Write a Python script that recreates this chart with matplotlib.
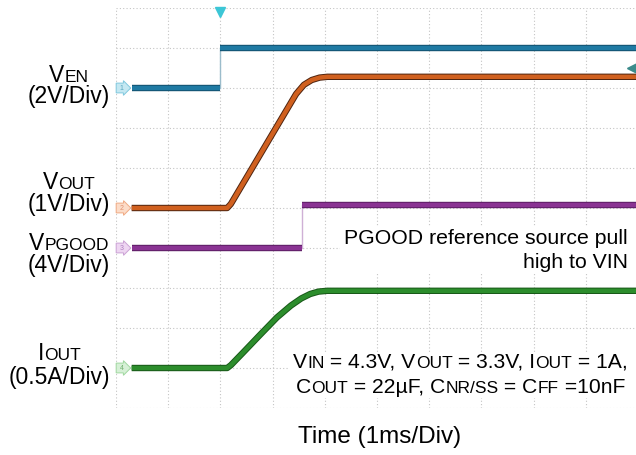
import matplotlib
matplotlib.use("Agg")
import matplotlib.pyplot as plt
import matplotlib.patheffects as pe
from matplotlib.patches import Rectangle

W, H = 636, 455

# scope screen is 10 x 10 divisions, values below are in divisions
ven_time = [0.3, 2.0, 2.0, 10.0]
ven_level = [8.0, 8.0, 9.0, 9.0]

vout_time = [0.3, 2.13, 2.2, 3.45, 3.6, 3.75, 3.9, 4.05, 10.0]
vout_level = [5.0, 5.0, 5.1, 7.85, 8.08, 8.2, 8.26, 8.28, 8.28]

pgood_time = [0.3, 3.56, 3.56, 10.0]
pgood_level = [4.0, 4.0, 5.07, 5.07]

iout_time = [0.3, 2.13, 2.2, 2.43, 2.76, 3.08, 3.35, 3.55, 3.72, 3.88, 4.05, 10.0]
iout_level = [1.0, 1.0, 1.07, 1.38, 1.83, 2.26, 2.56, 2.74, 2.85, 2.91, 2.93, 2.93]

channel_ids = ["1", "2", "3", "4"]
channel_names = [("V", "EN"), ("V", "OUT"), ("V", "PGOOD"), ("I", "OUT")]
channel_scales = ["(2V/Div)", "(1V/Div)", "(4V/Div)", "(0.5A/Div)"]

trigger_time = 2.0
trigger_level = 8.5

pgood_note = ["PGOOD reference source pull", "high to VIN"]
cond_line1 = [("V", 0), ("IN", 1), (" = 4.3V, V", 0), ("OUT", 1), (" = 3.3V, I", 0), ("OUT", 1), (" = 1A,", 0)]
cond_line2 = [("C", 0), ("OUT", 1), (" = 22µF, C", 0), ("NR/SS", 1), (" = C", 0), ("FF", 1), (" =10nF", 0)]
time_label = "Time (1ms/Div)"

plt.rcParams["font.family"] = ["Liberation Sans", "DejaVu Sans"]

fig = plt.figure(figsize=(W / 100, H / 100), dpi=100)
ax = fig.add_axes([116 / W, 47 / H, 522 / W, 400 / H])
ax.set_xlim(0, 10)
ax.set_ylim(0, 10)
ax.set_xticks(range(11))
ax.set_yticks(range(11))
ax.tick_params(length=0, labelbottom=False, labelleft=False)
ax.grid(True, ls=(0, (1, 2)), color="#c4c4c4", lw=0.8)
for s in ax.spines.values():
    s.set_visible(False)


def draw_trace(t, v, core, edge, step_color):
    # sloped/flat parts thick, instantaneous edges thin
    fx = [pe.Stroke(linewidth=4.6, foreground=edge), pe.Normal()]
    run_t, run_v = [t[0]], [v[0]]
    for i in range(1, len(t)):
        if t[i] == t[i - 1]:
            ax.plot([t[i - 1], t[i]], [v[i - 1], v[i]], color=step_color, lw=1.0, zorder=3)
            ax.plot(run_t, run_v, color=core, lw=3.2, zorder=4, solid_capstyle="butt",
                    solid_joinstyle="round", path_effects=fx)
            run_t, run_v = [t[i]], [v[i]]
        else:
            run_t.append(t[i])
            run_v.append(v[i])
    ax.plot(run_t, run_v, color=core, lw=3.2, zorder=4, solid_capstyle="butt",
            solid_joinstyle="round", path_effects=fx)


draw_trace(ven_time, ven_level, "#1f7aa3", "#114f6c", "#9bbccb")
draw_trace(vout_time, vout_level, "#d0601f", "#4e2410", "#e0a080")
draw_trace(pgood_time, pgood_level, "#8a3393", "#5a1d62", "#cfb0d6")
draw_trace(iout_time, iout_level, "#2c8d2c", "#185818", "#a0d0a0")

marker_fill = ["#c4e8f2", "#fcdcc8", "#eed6f2", "#d6f0d6"]
marker_edge = ["#80c8de", "#f0aa84", "#cba2d5", "#a0d8a0"]
marker_text = ["#5aa8c0", "#e09070", "#b080c0", "#70b070"]
start_levels = [ven_level[0], vout_level[0], pgood_level[0], iout_level[0]]
for cid, lvl, fc, ec, tc in zip(channel_ids, start_levels, marker_fill, marker_edge, marker_text):
    ax.text(0.03, lvl, " " + cid + " ", fontsize=5, color=tc, va="center", ha="left", zorder=6,
            bbox=dict(boxstyle="rarrow,pad=0.2", fc=fc, ec=ec, lw=0.7))

ax.plot(trigger_time, 9.9, marker="v", ms=7, color="#3cc6d6", clip_on=False, zorder=6)
ax.plot(9.88, trigger_level, marker="<", ms=7, color="#3b8b8b", clip_on=False, zorder=6)

r = fig.canvas.get_renderer()


def rich_text(x, y, parts, size, sub_size, ha="left", **kw):
    arts = []
    cx = x
    for s, is_sub in parts:
        t = fig.text(cx / W, 1 - y / H, s, fontsize=sub_size if is_sub else size,
                     va="baseline", ha="left", zorder=5, **kw)
        cx += t.get_window_extent(r).width
        arts.append(t)
    total = cx - x
    shift = {"left": 0, "center": -total / 2, "right": -total}[ha]
    for t in arts:
        px, py = t.get_position()
        t.set_position((px + shift / W, py))
    return x + shift, x + shift + total


def cover(x0, x1, y0, y1):
    fig.add_artist(Rectangle((x0 / W, 1 - y1 / H), (x1 - x0) / W, (y1 - y0) / H,
                             transform=fig.transFigure, fc="white", ec="none", zorder=2))


# channel labels on the left
name_y = [82, 189, 250, 360]
scale_y = [103, 211, 272, 384]
for (big, small), scale, ny, sy in zip(channel_names, channel_scales, name_y, scale_y):
    t = fig.text(110 / W, 1 - sy / H, scale, fontsize=16.5, ha="right", va="baseline")
    bb = t.get_window_extent(r)
    rich_text((bb.x0 + bb.x1) / 2, ny, [(big, 0), (small, 1)], 16.5, 12.5, ha="center")

# notes inside the screen
x0a, _ = rich_text(628, 244, [(pgood_note[0], 0)], 15.3, 15.3, ha="right")
x0b, _ = rich_text(628, 268, [(pgood_note[1], 0)], 15.3, 15.3, ha="right")
cover(min(x0a, x0b) - 4, 636, 226, 274)

x0c, _ = rich_text(628, 368, cond_line1, 15.2, 12.5, ha="right")
x0d, _ = rich_text(625, 393, cond_line2, 15.2, 12.5, ha="right")
cover(min(x0c, x0d) - 4, 636, 352, 398)

fig.text(380 / W, 1 - 443 / H, time_label, fontsize=17.5, ha="center", va="baseline")

fig.savefig("out.png", dpi=100)
